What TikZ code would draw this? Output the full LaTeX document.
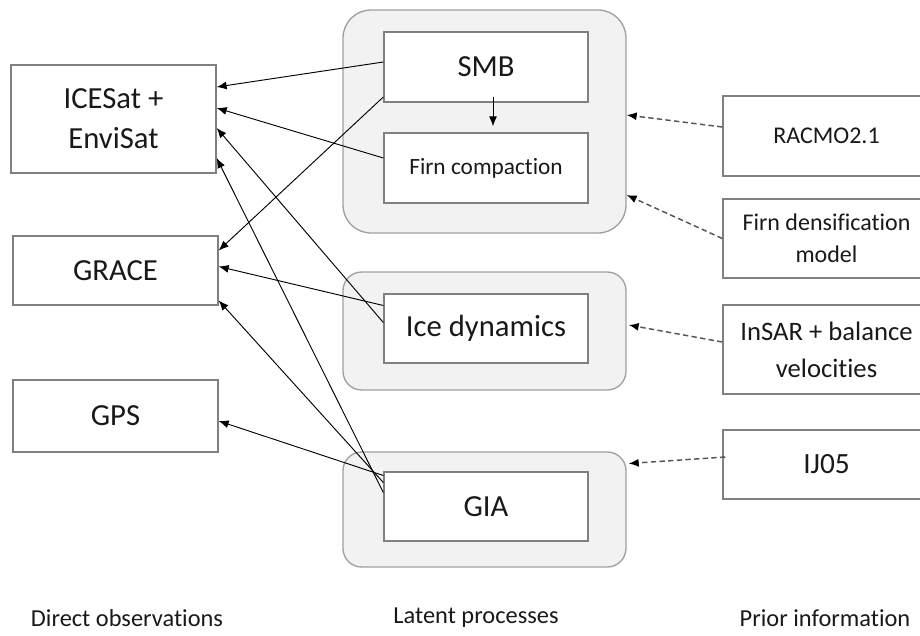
\documentclass[tikz,border=0pt]{standalone}
\usepackage{fontspec}
\setmainfont{Carlito}[Ligatures=NoCommon]
\usetikzlibrary{arrows.meta,calc}
\definecolor{boxline}{HTML}{808080}
\definecolor{grpfill}{HTML}{F2F2F2}
\definecolor{grpline}{HTML}{A0A0A0}
\definecolor{dashline}{HTML}{555555}

\begin{document}
\begin{tikzpicture}[x=0.75bp, y=-0.75bp,
  box/.style={draw=boxline, line width=1bp, fill=white, align=center, text=black!90, inner sep=0pt},
  bigtxt/.style={font=\fontsize{23bp}{30bp}\selectfont},
  midtxt/.style={font=\fontsize{18bp}{24bp}\selectfont},
  group/.style={draw=grpline, line width=1bp, fill=grpfill, minimum width=212.25bp},
  lbl/.style={text=black!90, font=\fontsize{18.3bp}{22bp}\selectfont},
  link/.style={->, >={Latex[length=7.5bp,width=6bp]}, line width=0.7bp},
  prior/.style={->, >={Latex[length=7.5bp,width=6bp,color=black]}, draw=dashline, dash pattern=on 4bp off 2.5bp, line width=1.1bp}]
\useasboundingbox (0,0) rectangle (920,636);

%============ latent process groups
\node[group, rounded corners=21bp, minimum height=167.25bp] (g1) at (484.5,121.5) {};
\node[group, rounded corners=14bp, minimum height=88.5bp] (g2) at (484.5,331) {};
\node[group, rounded corners=14bp, minimum height=86.25bp] (g3) at (484.5,509.5) {};

%============ direct observations
\node[box, bigtxt, minimum width=153.75bp, minimum height=81bp] (ice) at (113.5,119) {ICESat +\\EnviSat};
\node[box, bigtxt, minimum width=153.75bp, minimum height=51.75bp] (grace) at (115.5,270.5) {GRACE};
\node[box, bigtxt, minimum width=153.75bp, minimum height=54bp] (gps) at (115.5,416) {GPS};

%============ latent processes
\node[box, bigtxt, minimum width=153bp, minimum height=52.5bp] (smb) at (486,67) {SMB};
\node[box, font=\fontsize{17.5bp}{22bp}\selectfont, minimum width=153bp, minimum height=52.5bp] (firn) at (486,168) {Firn compaction};
\node[box, bigtxt, minimum width=153bp, minimum height=51.75bp] (dyn) at (486,328.5) {Ice dynamics};
\node[box, bigtxt, minimum width=153bp, minimum height=51.75bp] (gia) at (486,506.5) {GIA};

%============ prior information
\node[box, midtxt, minimum width=155.25bp, minimum height=60bp] (racmo) at (826.5,136) {RACMO2.1};
\node[box, midtxt, minimum width=155.25bp, minimum height=59.25bp] (dens) at (826.5,238.5) {Firn densification\\model};
\node[box, font=\fontsize{20bp}{27.5bp}\selectfont, minimum width=155.25bp, minimum height=66.75bp] (insar) at (826.5,349.5) {InSAR + balance\\velocities};
\node[box, font=\fontsize{22bp}{27bp}\selectfont, minimum width=155.25bp, minimum height=51.75bp] (ij05) at (826.5,464.5) {IJ05};

%============ column labels
\node[lbl] (obs) at (127,618) {Direct observations};
\node[lbl] (lat) at (476,618) {Latent processes};
\node[lbl] (pri) at (825,618) {Prior information};

%==========
\draw[link] ($(smb.south)+(7,-6)$) -- ($(firn.north)+(7,-6)$);
\draw[link] ($(smb.west)+(0,-5)$) -- ($(ice.east)+(0,-32)$);
\draw[link] ($(firn.west)+(0,-10)$) -- ($(ice.east)+(0,-11)$);
\draw[link] ($(smb.west)+(0,30)$) -- ($(grace.east)+(0,-20)$);
\draw[link] ($(dyn.west)+(0,-23)$) -- ($(grace.east)+(0,-4)$);
\draw[link] ($(dyn.west)+(0,-6)$) -- ($(ice.east)+(0,9)$);
\draw[link] ($(gia.west)+(0,-14)$) -- ($(ice.east)+(0,39)$);
\draw[link] ($(gia.west)+(0,-24)$) -- ($(grace.east)+(0,30)$);
\draw[link] ($(gia.west)+(0,-31)$) -- ($(gps.east)+(0,5)$);

\draw[prior] ($(racmo.west)+(0,-9)$) -- ($(g1.east)+(0,-6.5)$);
\draw[prior] (dens.west) -- ($(g1.east)+(0,73.5)$);
\draw[prior] ($(insar.west)+(0,-7.5)$) -- ($(g2.east)+(2,-6)$);
\draw[prior] ($(ij05.west)+(3,-7.5)$) -- ($(g3.east)+(2,-46)$);
\end{tikzpicture}
\end{document}
